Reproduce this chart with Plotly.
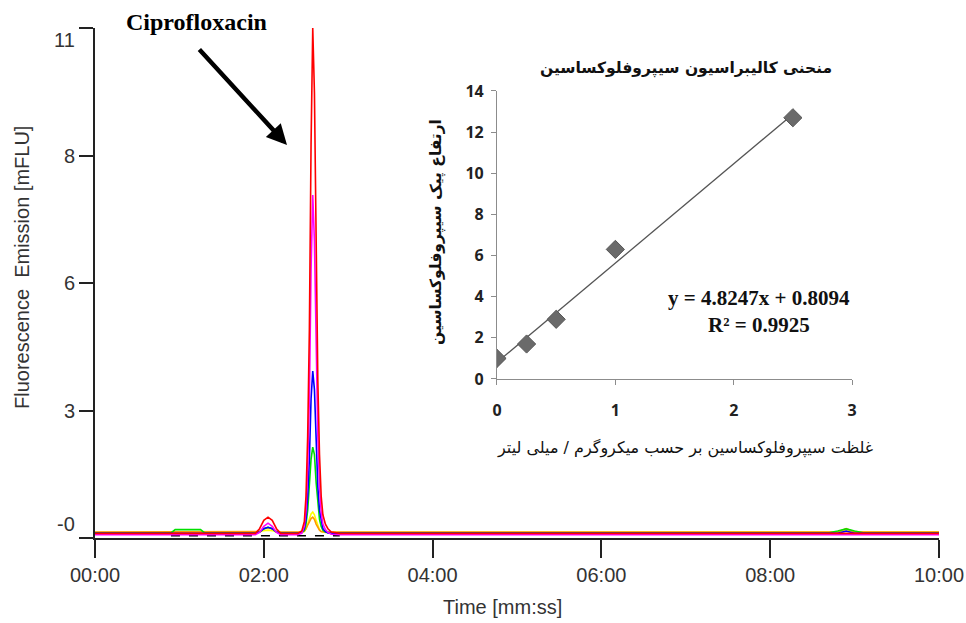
import plotly.graph_objects as go

# ---------------- chromatogram data (minutes, mFLU) ----------------
time_min = [0.0, 0.9, 0.95, 1.25, 1.3, 1.4, 1.5, 1.9, 1.95, 2.0, 2.05, 2.1, 2.15, 2.2,
            2.4, 2.45, 2.48, 2.5, 2.52, 2.54, 2.56, 2.58, 2.6, 2.62, 2.64, 2.66, 2.68,
            2.7, 2.73, 2.76, 2.8, 2.9, 8.7, 8.8, 8.9, 9.0, 9.1, 10.0]

red = [0.1, 0.1, 0.1, 0.1, 0.1, 0.1, 0.1, 0.1, 0.2, 0.38, 0.45, 0.38, 0.2, 0.1,
       0.1, 0.15, 0.35, 0.9, 2.2, 4.5, 8.5, 11.0, 9.6, 6.0, 3.4, 1.8, 0.9,
       0.5, 0.3, 0.2, 0.13, 0.1, 0.1, 0.1, 0.1, 0.1, 0.1, 0.1]
magenta = [0.07, 0.07, 0.07, 0.07, 0.07, 0.07, 0.07, 0.07, 0.12, 0.25, 0.32, 0.25, 0.12, 0.07,
           0.07, 0.1, 0.25, 0.6, 1.5, 3.0, 5.8, 7.4, 6.4, 4.0, 2.2, 1.1, 0.55,
           0.3, 0.18, 0.12, 0.08, 0.07, 0.07, 0.07, 0.07, 0.07, 0.07, 0.07]
blue = [0.1, 0.1, 0.1, 0.1, 0.1, 0.1, 0.1, 0.1, 0.13, 0.2, 0.23, 0.2, 0.13, 0.1,
        0.1, 0.12, 0.2, 0.4, 0.9, 1.7, 3.0, 3.6, 3.2, 2.0, 1.1, 0.6, 0.35,
        0.2, 0.14, 0.11, 0.1, 0.1, 0.1, 0.1, 0.15, 0.1, 0.1, 0.1]
green = [0.11, 0.11, 0.18, 0.18, 0.11, 0.11, 0.11, 0.11, 0.13, 0.2, 0.23, 0.2, 0.13, 0.11,
         0.11, 0.12, 0.16, 0.3, 0.6, 1.1, 1.7, 1.96, 1.8, 1.2, 0.7, 0.4, 0.25,
         0.17, 0.13, 0.12, 0.11, 0.11, 0.11, 0.15, 0.2, 0.15, 0.11, 0.11]
yellow = [0.12, 0.12, 0.12, 0.12, 0.12, 0.12, 0.12, 0.12, 0.13, 0.16, 0.17, 0.16, 0.13, 0.12,
          0.12, 0.12, 0.14, 0.2, 0.3, 0.42, 0.52, 0.56, 0.5, 0.38, 0.26, 0.18, 0.14,
          0.13, 0.12, 0.12, 0.12, 0.12, 0.13, 0.13, 0.18, 0.13, 0.13, 0.13]
orange = [0.13, 0.13, 0.13, 0.13, 0.13, 0.13, 0.13, 0.13, 0.14, 0.2, 0.22, 0.2, 0.14, 0.13,
          0.13, 0.13, 0.15, 0.2, 0.28, 0.35, 0.42, 0.45, 0.4, 0.3, 0.22, 0.17, 0.14,
          0.13, 0.13, 0.13, 0.13, 0.13, 0.13, 0.13, 0.2, 0.13, 0.13, 0.13]
black = [None, 0.05, 0.05, 0.05, 0.05, 0.05, 0.05, 0.05, 0.05, 0.05, 0.05, 0.05, 0.05, 0.05,
         0.05, 0.05, 0.05, 0.05, 0.05, 0.05, 0.05, 0.05, 0.05, 0.05, 0.05, 0.05, 0.05,
         0.05, 0.05, 0.05, 0.05, 0.05, None, None, None, None, None, None]

series_names = ["black", "yellow", "orange", "green", "blue", "magenta", "red"]
series_values = [black, yellow, orange, green, blue, magenta, red]
series_colors = ["#000000", "#ffff00", "#ff9900", "#00e000", "#0000ff", "#ff00ff", "#ff0000"]

x_tickvals = [0, 2, 4, 6, 8, 10]
x_ticktext = ["00:00", "02:00", "04:00", "06:00", "08:00", "10:00"]
y_tickvals = [0, 2.75, 5.5, 8.25, 11]
y_ticktext = ["-0", "3", "6", "8", "11"]

# ---------------- calibration inset data ----------------
cal_conc = [0, 0.25, 0.5, 1.0, 2.5]
cal_height = [1.0, 1.7, 2.9, 6.3, 12.7]
fit_slope = 4.8247
fit_intercept = 0.8094
inset_xticks = [0, 1, 2, 3]
inset_yticks = [0, 2, 4, 6, 8, 10, 12, 14]

fig = go.Figure()

for name, vals, col in zip(series_names, series_values, series_colors):
    fig.add_trace(go.Scatter(
        x=time_min, y=vals, mode="lines", name=name,
        line=dict(color=col, width=1.6, dash="dash" if name == "black" else "solid"),
        xaxis="x", yaxis="y", showlegend=False))

fit_x = [cal_conc[0], cal_conc[-1]]
fit_y = [fit_slope * v + fit_intercept for v in fit_x]
fig.add_trace(go.Scatter(x=fit_x, y=fit_y, mode="lines",
                         line=dict(color="#555555", width=1.3),
                         xaxis="x2", yaxis="y2", showlegend=False))
fig.add_trace(go.Scatter(x=cal_conc, y=cal_height, mode="markers",
                         marker=dict(symbol="diamond", size=14, color="#6a6a6a",
                                     line=dict(color="#555555", width=1)),
                         xaxis="x2", yaxis="y2", showlegend=False))

persian_font = "DejaVu Sans"
tick_font_main = dict(family="Liberation Sans, Arial", size=20, color="#333333")
# outer tick labels of the main y axis are drawn as annotations (they sit inward of their ticks)
y_ticktext_axis = ["" if i in (0, len(y_ticktext) - 1) else t for i, t in enumerate(y_ticktext)]

fig.update_layout(
    width=966, height=623,
    margin=dict(l=95, r=27, t=28, b=85, autoexpand=False),
    paper_bgcolor="white", plot_bgcolor="white",
    showlegend=False,
    xaxis=dict(range=[0, 10], domain=[0, 1], tickvals=x_tickvals, ticktext=x_ticktext,
               showline=True, linecolor="#222222", linewidth=2, ticks="outside",
               ticklen=18, tickwidth=2, tickcolor="#222222", showgrid=False, zeroline=False,
               automargin=False, tickfont=tick_font_main),
    yaxis=dict(range=[0, 11], domain=[0, 1], tickvals=y_tickvals, ticktext=y_ticktext_axis,
               showline=True, linecolor="#222222", linewidth=2, ticks="outside",
               ticklen=14, tickwidth=2, tickcolor="#222222", showgrid=False, zeroline=False,
               automargin=False, tickfont=tick_font_main),
    xaxis2=dict(range=[0, 3], domain=[0.4763, 0.897], anchor="y2", tickvals=inset_xticks,
                ticktext=["<b>%d</b>" % v for v in inset_xticks],
                showline=True, linecolor="#8c8c8c", linewidth=1.2, ticks="outside",
                ticklen=5, tickcolor="#8c8c8c", showgrid=False, zeroline=False,
                ticklabelstandoff=12, automargin=False,
                tickfont=dict(family="Open Sans", size=16, color="#222222")),
    yaxis2=dict(range=[0, 14], domain=[0.3118, 0.8765], anchor="x2", tickvals=inset_yticks,
                ticktext=["<b>%d</b>" % v for v in inset_yticks],
                showline=True, linecolor="#8c8c8c", linewidth=1.2, ticks="outside",
                ticklen=5, tickcolor="#8c8c8c", showgrid=False, zeroline=False,
                ticklabelstandoff=4, automargin=False,
                tickfont=dict(family="Open Sans", size=16, color="#222222")),
)

def px(xp):
    return (xp - 95) / 844

def py(yp):
    return (538 - yp) / 510

ann = []
# main y tick labels that sit inward from their ticks
ann.append(dict(text=y_ticktext[0], xref="paper", yref="paper", x=px(77), y=py(524),
                xanchor="right", yanchor="middle", showarrow=False, font=tick_font_main))
ann.append(dict(text=y_ticktext[-1], xref="paper", yref="paper", x=px(77), y=py(40),
                xanchor="right", yanchor="middle", showarrow=False, font=tick_font_main))
# main axis titles
ann.append(dict(text="Time [mm:ss]", xref="paper", yref="paper", x=px(502), y=py(607),
                xanchor="center", yanchor="middle", showarrow=False,
                font=dict(family="Liberation Sans, Arial", size=20, color="#333333")))
ann.append(dict(text="Fluorescence  Emission [mFLU]", xref="paper", yref="paper",
                x=px(22), y=py(268), xanchor="center", yanchor="middle", textangle=-90,
                showarrow=False, font=dict(family="Liberation Sans, Arial", size=20, color="#333333")))
# Ciprofloxacin label and arrow
ann.append(dict(text="<b>Ciprofloxacin</b>", xref="paper", yref="paper",
                x=px(196), y=py(22), xanchor="center", yanchor="middle", showarrow=False,
                font=dict(family="Liberation Serif, Times New Roman", size=24, color="#000000")))
ann.append(dict(text="", xref="paper", yref="paper",
                x=px(287), y=py(145), ax=-89, ay=-97,
                showarrow=True, arrowhead=2, arrowsize=0.9, arrowwidth=4.5, arrowcolor="#000000"))
# inset texts
ann.append(dict(text="<b>منحنی کالیبراسیون سیپروفلوکساسین</b>", xref="paper", yref="paper",
                x=px(686), y=py(68), xanchor="center", yanchor="middle", showarrow=False,
                font=dict(family=persian_font, size=15.5, color="#111111")))
ann.append(dict(text="<b>ارتفاع پیک سیپروفلوکساسین</b>", xref="paper", yref="paper",
                x=px(436), y=py(232), xanchor="center", yanchor="middle", textangle=-90,
                showarrow=False, font=dict(family=persian_font, size=15.5, color="#111111")))
ann.append(dict(text="غلظت سیپروفلوکساسین بر حسب میکروگرم / میلی لیتر", xref="paper", yref="paper",
                x=px(685), y=py(448), xanchor="center", yanchor="middle", showarrow=False,
                font=dict(family=persian_font, size=16, color="#111111")))
ann.append(dict(text="<b>y = 4.8247x + 0.8094</b>", xref="paper", yref="paper",
                x=px(759), y=py(298), xanchor="center", yanchor="middle", showarrow=False,
                font=dict(family="Liberation Serif, Times New Roman", size=21, color="#111111")))
ann.append(dict(text="<b>R² = 0.9925</b>", xref="paper", yref="paper",
                x=px(759), y=py(325), xanchor="center", yanchor="middle", showarrow=False,
                font=dict(family="Liberation Serif, Times New Roman", size=21, color="#111111")))
fig.update_layout(annotations=ann)

# remove the browser's default body margin so the 966x623 figure fills the window exactly
fig.write_html("out.html", config={"displayModeBar": False},
               post_script="document.body.style.margin='0px';document.body.style.overflow='hidden';")
